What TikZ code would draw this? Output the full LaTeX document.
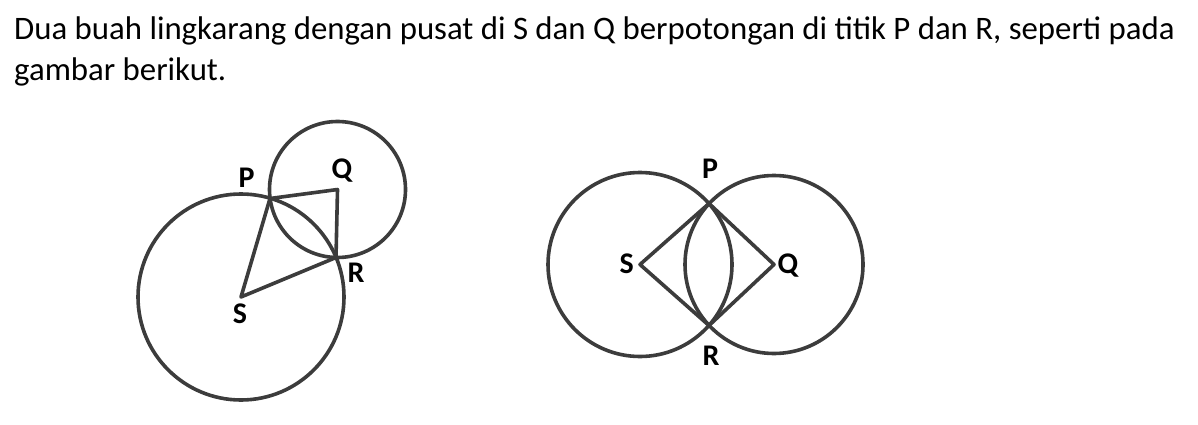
\documentclass[tikz,border=0pt]{standalone}
\usepackage{fontspec}
\setmainfont{Carlito}
\definecolor{ink}{HTML}{3C3C3C}
\tikzset{
  geo/.style={draw=ink, line width=3.6pt, line join=round},
  lbl/.style={font=\fontsize{30}{30}\selectfont\bfseries, inner sep=0pt, anchor=base},
  body/.style={font=\fontsize{32.8}{38}\selectfont, inner sep=0pt, anchor=base west}
}
\begin{document}
\begin{tikzpicture}[x=1pt,y=-1pt]
\useasboundingbox (0,0) rectangle (1198,425);
\node[body] (t1) at (14,40) {Dua buah lingkarang dengan pusat di S dan Q berpotongan di titik P dan R, seperti pada};
\node[body] (t2) at (14,81) {gambar berikut.};
% left figure
\coordinate (S1) at (241,297);
\coordinate (Q1) at (337.5,189.5);
\coordinate (P1) at (270,198.5);
\coordinate (R1) at (336,257.5);
\draw[geo] (S1) circle[radius=103pt];
\draw[geo] (Q1) circle[radius=68pt];
\draw[geo] (S1) -- (P1) -- (Q1) -- (R1) -- cycle;
\node[lbl] (lP1) at (246.5,187) {P};
\node[lbl] (lQ1) at (342,178.5) {Q};
\node[lbl] (lR1) at (356,282) {R};
\node[lbl] (lS1) at (240,323.5) {S};
% right figure
\coordinate (S2) at (640,264.5);
\coordinate (Q2) at (774,264.5);
\coordinate (P2) at (709,203.5);
\coordinate (R2) at (709,325.5);
\draw[geo] (S2) circle[radius=92pt];
\draw[geo] (Q2) circle[radius=89pt];
\draw[geo] (S2) -- (P2) -- (Q2) -- (R2) -- cycle;
\node[lbl] (lP2) at (710,178.8) {P};
\node[lbl] (lS2) at (626.7,273) {S};
\node[lbl] (lQ2) at (788,273) {Q};
\node[lbl] (lR2) at (711,365.5) {R};
\end{tikzpicture}
\end{document}
